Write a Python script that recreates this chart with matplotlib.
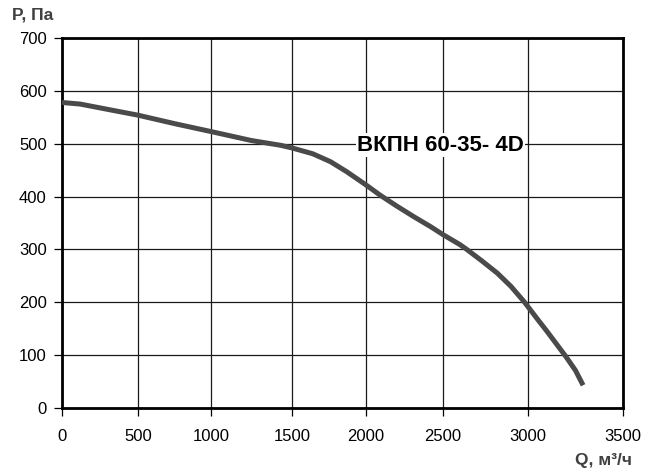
"""Fan pressure curve for ВКПН 60-35-4D, redrawn as a static PNG."""

import matplotlib

matplotlib.use("Agg")
import matplotlib.pyplot as plt
import numpy as np

# curve (Q in m3/h, P in Pa)
flow = [0, 120, 300, 500, 750, 1000, 1250, 1430, 1500, 1640, 1760, 1870,
        2000, 2090, 2200, 2310, 2420, 2500, 2600, 2640, 2730, 2820, 2900,
        2980, 3050, 3100, 3150, 3200, 3250, 3290]
pressure = [578, 575, 565, 554, 538, 523, 506, 497, 492, 481, 466, 447,
            422, 403, 382, 362, 343, 328, 309, 300, 278, 255, 230,
            200, 168, 145, 121, 97, 71, 43]

x_ticks = [0, 500, 1000, 1500, 2000, 2500, 3000, 3500]
y_ticks = [0, 100, 200, 300, 400, 500, 600, 700]
# the scanned chart has uneven spacing between the Q grid lines
x_grid_px = [0, 76, 149, 230, 304, 381, 466, 561]

model_name = "ВКПН 60-35- 4D"

plt.rcParams["font.family"] = ["Liberation Sans", "DejaVu Sans"]

knots = np.array(x_ticks, dtype=float)
frac = np.array(x_grid_px, dtype=float) / x_grid_px[-1]


def forward(q):
    return np.interp(q, knots, frac, left=np.nan, right=np.nan)


def inverse(f):
    return np.interp(f, frac, knots)


fig = plt.figure(figsize=(6.58, 4.76), dpi=100)
W, H = 658, 476
ax = fig.add_axes([62 / W, (H - 408) / H, (623 - 62) / W, (408 - 38) / H])
ax.set_xscale("function", functions=(forward, inverse))
ax.set_xlim(0, 3500)
ax.set_ylim(0, 700)
ax.set_xticks(x_ticks)
ax.set_yticks(y_ticks)
ax.grid(True, color="#1a1a1a", linewidth=0.9)
ax.set_axisbelow(True)
for spine in ax.spines.values():
    spine.set_linewidth(2.0)
    spine.set_color("black")
ax.tick_params(direction="out", length=6, width=0.9, labelsize=12,
               colors="black")
ax.tick_params(axis="x", pad=9)
ax.tick_params(axis="y", pad=5)

ax.plot(flow, pressure, color="#4a4a4a", linewidth=3.6,
        solid_capstyle="butt", solid_joinstyle="round", zorder=3)

ax.text(1940, 497, model_name, fontsize=16, fontweight="bold",
        ha="left", va="center", color="black", zorder=4,
        bbox={"facecolor": "white", "edgecolor": "none", "pad": 1.0})

fig.text(12 / W, 1 - 15 / H, "P, Па", fontsize=12.5, fontweight="bold",
         color="#404040", ha="left", va="center")
fig.text(632 / W, 1 - 461 / H, "Q, м³/ч", fontsize=12.5, fontweight="bold",
         color="#404040", ha="right", va="center")

fig.savefig("out.png", dpi=100)
plt.close(fig)
